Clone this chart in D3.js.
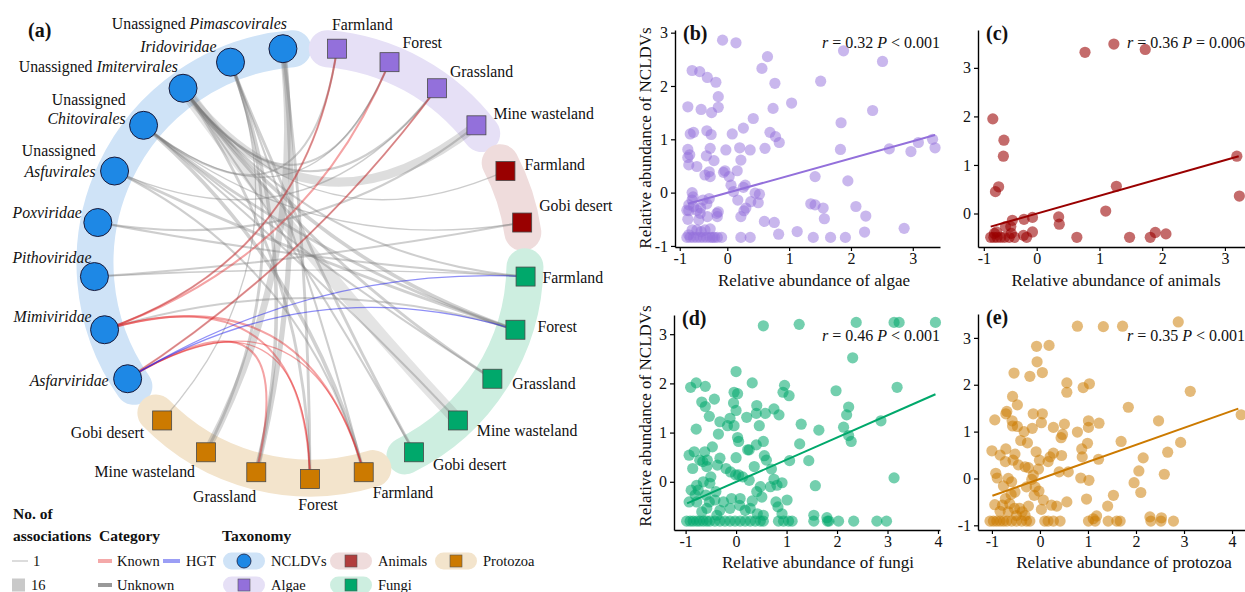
<!DOCTYPE html>
<html><head><meta charset="utf-8">
<script src="https://cdn.jsdelivr.net/npm/d3@7"></script>
<style>
body{margin:0;background:#fff}
svg{display:block}
text{font-family:"Liberation Serif","Times New Roman",Times,serif;fill:#111}
</style>
</head><body>
<svg id="chart" width="1245" height="592" style="font-family:'Liberation Serif','Times New Roman',Times,serif"></svg>
<script>
// ================= DATA =================
// Panel (a) nodes, clockwise from top
const nodeIds = ["A_Farm","A_For","A_Gra","A_Mine","An_Farm","An_Gobi",
  "F_Farm","F_For","F_Gra","F_Mine","F_Gobi",
  "P_Farm","P_For","P_Gra","P_Mine","P_Gobi",
  "Asfar","Mimi","Pith","Pox","Asfu","Chi","Imi","Iri","Pim"];
const nodeGroups = ["Algae","Algae","Algae","Algae","Animals","Animals",
  "Fungi","Fungi","Fungi","Fungi","Fungi",
  "Protozoa","Protozoa","Protozoa","Protozoa","Protozoa",
  "NCLDVs","NCLDVs","NCLDVs","NCLDVs","NCLDVs","NCLDVs","NCLDVs","NCLDVs","NCLDVs"];
// label lines: each line = list of [text, italic]
const nodeLabels = [
  [[["Farmland",0]]],[[["Forest",0]]],[[["Grassland",0]]],[[["Mine wasteland",0]]],
  [[["Farmland",0]]],[[["Gobi desert",0]]],
  [[["Farmland",0]]],[[["Forest",0]]],[[["Grassland",0]]],[[["Mine wasteland",0]]],[[["Gobi desert",0]]],
  [[["Farmland",0]]],[[["Forest",0]]],[[["Grassland",0]]],[[["Mine wasteland",0]]],[[["Gobi desert",0]]],
  [[["Asfarviridae",1]]],[[["Mimiviridae",1]]],[[["Pithoviridae",1]]],[[["Poxviridae",1]]],
  [[["Unassigned",0]],[["Asfuvirales",1]]],
  [[["Unassigned",0]],[["Chitovirales",1]]],
  [[["Unassigned ",0],["Imitervirales",1]]],
  [[["Iridoviridae",1]]],
  [[["Unassigned ",0],["Pimascovirales",1]]]
];
// edges: [NCLDV node, partner node, number of associations, category]
const edges = [
  ["Imi","F_Mine",16,"Unknown"],["Imi","A_Mine",11,"Unknown"],["Imi","F_For",4,"Unknown"],
  ["Imi","F_Gra",3,"Unknown"],["Imi","F_Farm",2,"Unknown"],["Imi","P_For",3,"Unknown"],
  ["Imi","F_Gobi",2,"Unknown"],["Imi","An_Farm",1,"Unknown"],["Imi","A_For",2,"Unknown"],
  ["Imi","A_Gra",2,"Unknown"],
  ["Chi","F_For",3,"Unknown"],["Chi","F_Gra",2,"Unknown"],["Chi","P_Farm",4,"Unknown"],
  ["Chi","A_Farm",2,"Unknown"],["Chi","A_For",1,"Unknown"],["Chi","An_Gobi",1,"Unknown"],
  ["Chi","F_Mine",2,"Unknown"],
  ["Asfu","F_For",3,"Unknown"],["Asfu","P_Farm",2,"Unknown"],["Asfu","A_Gra",1,"Unknown"],
  ["Pox","F_Farm",2,"Unknown"],["Pox","A_Mine",2,"Unknown"],
  ["Pith","An_Gobi",2,"Unknown"],["Pith","F_Farm",1,"Unknown"],
  ["Pim","P_For",3,"Unknown"],["Pim","P_Mine",8,"Unknown"],["Pim","P_Gra",6,"Unknown"],
  ["Iri","F_Gobi",3,"Unknown"],["Iri","P_Farm",2,"Unknown"],["Iri","P_Gra",4,"Unknown"],
  ["Iri","P_Mine",3,"Unknown"],["Iri","P_Gobi",1,"Unknown"],
  ["Mimi","A_Farm",1,"Unknown"],["Mimi","F_For",2,"Unknown"],["Asfar","A_Gra",1,"Unknown"],
  ["Mimi","A_Farm",2,"Known"],["Mimi","A_For",2,"Known"],["Asfar","A_Gra",2,"Known"],
  ["Mimi","P_For",2,"Known"],["Mimi","P_Farm",2,"Known"],["Asfar","P_Gra",2,"Known"],
  ["Asfar","P_For",1,"Known"],["Asfar","P_Farm",1,"Known"],
  ["Asfar","F_Farm",1,"HGT"],["Asfar","F_For",1,"HGT"]
];
const taxa = ["NCLDVs","Algae","Animals","Fungi","Protozoa"];
const categories = ["Known","HGT","Unknown"];
const sizeBreaks = [1,16];

// Scatter panels: [x, y] pairs
const algaePts = [[-0.10,2.86],[0.14,2.81],[1.88,2.66],[0.65,2.55],[2.51,2.46],[0.56,2.33],[1.51,2.09],[0.77,2.05],[-0.74,2.29],[-0.58,2.27],[-0.42,2.16],[-0.24,2.07],[-0.19,1.80],[-0.83,1.61],[-0.55,1.56],[-0.19,1.60],[-0.33,1.50],[0.42,1.39],[1.04,1.68],[0.74,1.58],[2.35,1.54],[1.84,1.31],[0.26,1.21],[0.69,1.13],[0.78,1.05],[0.84,0.94],[0.61,0.83],[0.08,1.10],[-0.78,1.10],[-0.71,1.13],[-0.43,1.16],[-0.34,1.09],[-0.83,0.81],[-0.79,0.71],[-0.83,0.66],[-0.81,0.52],[-0.64,0.49],[-0.36,0.83],[-0.44,0.69],[-0.28,0.60],[-0.03,0.80],[-0.47,0.33],[-0.38,0.39],[-0.36,0.30],[-0.08,0.38],[-0.05,0.41],[0.03,0.30],[0.16,0.41],[0.22,0.61],[0.37,0.80],[0.20,0.84],[1.83,0.81],[2.62,0.82],[2.97,0.77],[3.09,0.94],[3.32,1.00],[3.36,0.84],[0.06,0.14],[0.10,0.02],[0.26,0.10],[0.17,-0.14],[0.29,0.14],[0.45,-0.01],[0.52,-0.03],[0.38,-0.17],[0.27,-0.34],[0.30,-0.29],[0.22,-0.45],[0.50,-0.19],[0.60,-0.54],[0.76,-0.56],[1.42,0.30],[1.95,0.22],[1.35,-0.21],[1.42,-0.23],[1.55,-0.29],[1.57,-0.49],[2.08,-0.26],[2.24,-0.44],[2.86,-0.67],[0.83,-0.78],[1.13,-0.73],[1.39,-0.84],[1.67,-0.84],[1.91,-0.84],[2.22,-0.74],[-0.12,-0.84],[0.22,-0.84],[0.37,-0.84],[-0.27,-0.84],[-0.74,0.00],[-0.72,-0.08],[-0.74,-0.14],[-0.81,-0.23],[-0.85,-0.33],[-0.71,-0.26],[-0.57,-0.39],[-0.56,-0.29],[-0.51,-0.14],[-0.38,-0.11],[-0.43,-0.21],[-0.60,-0.51],[-0.64,-0.70],[-0.74,-0.70],[-0.81,-0.79],[-0.85,-0.84],[-0.78,-0.84],[-0.71,-0.84],[-0.64,-0.84],[-0.57,-0.84],[-0.50,-0.84],[-0.43,-0.84],[-0.36,-0.84],[-0.21,-0.84],[-0.55,-0.73],[-0.47,-0.70],[-0.36,-0.68],[-0.22,-0.39],[-0.19,-0.36],[-0.21,-0.45],[-0.83,-0.50],[-0.81,-0.34],[-0.64,-0.33],[-0.42,-0.45],[-0.31,-0.84]];
const animalPts = [[0.77,3.32],[1.23,3.49],[1.73,3.38],[-0.83,1.95],[-0.62,1.51],[-0.63,1.18],[-0.72,0.55],[-0.78,0.45],[1.27,0.56],[1.10,0.05],[3.19,1.18],[3.23,0.36],[0.35,-0.07],[0.36,-0.22],[-0.08,-0.08],[-0.24,-0.12],[-0.08,-0.38],[-0.46,-0.14],[-0.49,-0.27],[-0.59,-0.27],[-0.76,-0.38],[0.64,-0.49],[1.48,-0.49],[1.81,-0.49],[1.89,-0.39],[2.06,-0.42],[-0.25,-0.45],[-0.87,-0.49],[-0.81,-0.49],[-0.75,-0.49],[-0.68,-0.49],[-0.61,-0.49],[-0.52,-0.49],[-0.42,-0.49],[-0.19,-0.49],[-0.48,-0.41],[-0.80,-0.41]];
const fungiPts = [[0.54,3.17],[1.25,3.20],[2.38,3.24],[3.13,3.24],[3.23,3.24],[3.95,3.24],[2.31,2.52],[3.19,1.92],[1.98,1.85],[2.23,1.52],[2.19,1.36],[2.87,1.24],[2.13,1.11],[2.23,0.94],[2.28,0.82],[3.13,0.08],[1.64,1.05],[1.29,1.17],[1.26,0.77],[1.44,0.43],[1.57,-0.08],
 [0,2.24],[0.32,2.01],[0.96,1.96],[0.93,1.82],[1.05,1.75],[-0.04,1.82],[0.03,1.79],[-0.9,1.92],[-0.79,2.01],[-0.61,1.94],[-0.68,1.62],[-0.61,1.53],[-0.43,1.68],[-0.05,1.60],[0,1.45],[0.41,1.55],[0.40,1.39],[0.58,1.39],[0.75,1.48],[0.85,1.36],[0.46,1.14],[0.21,1.31],[-0.12,1.29],[-0.17,1.14],[-0.04,1.14],[-0.32,1.22],[-0.53,1.33],[-0.79,1.07],[-0.35,0.97],[0.03,0.90],[0.05,0.82],[0.54,0.82],[0.40,0.75],[0.26,0.65],[0.23,0.65],[-0.47,0.71],[-0.62,0.61],[-0.93,0.54],[-0.83,0.61],[0,0.49],[0.56,0.53],[0.60,0.44],[0.36,0.31],[0.70,0.26],[1.06,0.43],
 [-0.72,0.44],[-0.66,0.41],[-0.57,0.44],[-0.86,0.27],[-0.58,0.31],[-0.37,0.34],[-0.32,0.48],[-0.2,0.27],[-0.11,0.2],[0.05,0.14],[-0.01,0.14],[0.13,0.10],[0.26,0.03],[0.75,0.05],[0.91,-0.02],[0.81,-0.07],[0.68,-0.1],[0.48,-0.1],[0.41,-0.2],[0.51,-0.31],[0.32,-0.39],[0.08,-0.34],[0.07,-0.48],[-0.09,-0.34],[-0.12,-0.54],[-0.25,-0.41],[-0.32,-0.58],[-0.40,-0.2],[-0.42,-0.37],[-0.50,0.1],[-0.52,-0.03],[-0.65,0],[-0.78,-0.07],[-0.75,-0.17],[-0.81,-0.27],[-0.78,-0.41],[-0.93,-0.41],[-0.89,-0.17],[-0.60,-0.27],[-0.53,-0.41],[-0.58,-0.54],[-0.68,-0.61],[-0.38,-0.68],[0.18,-0.58],[0.28,-0.54],[0.42,-0.65],[0.54,-0.68],[0.79,-0.41],[0.83,-0.51],[1.01,-0.37],[0.91,-0.65],[1.54,-0.68],[1.80,-0.73],
 [-0.98,-0.8],[-0.91,-0.8],[-0.85,-0.8],[-0.78,-0.8],[-0.72,-0.8],[-0.65,-0.8],[-0.58,-0.8],[-0.52,-0.8],[-0.42,-0.8],[-0.32,-0.8],[-0.22,-0.8],[-0.12,-0.8],[-0.02,-0.8],[0.08,-0.8],[0.18,-0.8],[0.28,-0.8],[0.38,-0.8],[0.48,-0.8],[0.54,-0.8],[0.84,-0.8],[0.94,-0.8],[1.04,-0.8],[1.11,-0.8],[1.54,-0.8],[1.81,-0.8],[1.84,-0.8],[2.03,-0.8],[2.33,-0.8],[2.79,-0.8],[2.98,-0.8]];
const protozoaPts = [[0.78,3.25],[1.32,3.24],[1.72,3.25],[2.88,3.34],[-0.07,2.82],[0.19,2.84],[-0.06,2.49],[0.05,2.26],[-0.54,2.25],[-0.21,2.18],[0.56,2.04],[0.56,1.84],[1.03,2.02],[0.90,1.94],[3.13,1.86],[1.84,1.52],[-0.57,1.75],[-0.47,1.57],[-0.69,1.43],[-0.71,1.38],[-0.94,1.25],[-0.14,1.38],[0.05,1.38],[0.03,1.19],[-0.58,1.23],[-0.57,1.12],[-0.47,1.11],[-0.16,1.07],[-0.33,1.0],[0.51,1.16],[0.28,1.09],[1.23,1.18],[1.01,1.23],[1.01,1.09],[0.78,0.99],[0.99,0.75],[0.47,0.94],[0.44,0.87],[-0.40,0.81],[-0.26,0.76],[2.47,1.23],[2.93,0.77],[2.66,0.56],[1.69,0.79],[2.15,0.44],[2.06,0.16],[2.59,0.09],[1.96,-0.09],[2.10,-0.30],[1.53,-0.36],[1.41,-0.59],[0.97,-0.44],[-1.0,0.59],[-0.71,0.63],[-0.52,0.52],[-0.56,0.39],[-0.83,0.5],[-0.72,0.36],[-0.45,0.29],[-0.31,0.25],[-0.24,0.23],[-0.08,0.57],[-0.01,0.39],[0.21,0.46],[0.28,0.54],[0.45,0.49],[0.88,0.46],[1.22,0.41],[0.87,0.63],[0.59,0.14],[0.40,0.14],[0.17,0.36],[-0.03,0.2],[-0.14,0.07],[-0.17,-0.02],[-0.28,-0.18],[-0.10,-0.18],[-0.02,-0.27],[-0.12,-0.36],[0.07,-0.46],[0.24,-0.57],[0.35,-0.59],[0.03,-0.66],[0.56,-0.5],[0.85,0.01],[1.02,-0.04],[-0.92,0.11],[-0.89,0.01],[-0.66,0],[-0.59,-0.07],[-0.76,-0.16],[-0.52,-0.29],[-0.60,-0.34],[-0.72,-0.43],[-0.94,-0.56],[-0.78,-0.57],[-0.83,-0.70],[-0.53,-0.64],[-0.37,-0.71],[-0.31,-0.79],[-0.42,-0.64],[-0.24,-0.59],[-0.49,-0.79],[-0.66,-0.71],[-0.63,-0.54],
 [-1.04,-0.91],[-0.97,-0.91],[-0.9,-0.91],[-0.83,-0.91],[-0.76,-0.91],[-0.69,-0.91],[-0.59,-0.91],[-0.49,-0.91],[-0.38,-0.91],[-0.28,-0.91],[-0.21,-0.91],[0.10,-0.91],[0.17,-0.91],[0.28,-0.91],[0.42,-0.91],[1.01,-0.91],[1.15,-0.91],[1.42,-0.91],[1.60,-0.91],[1.67,-0.91],[2.31,-0.91],[2.52,-0.91],[2.78,-0.91],[1.18,-0.8],[1.11,-0.86],[2.29,-0.82],[2.53,-0.84],[4.19,1.36]];
// fitted regression lines: [xStart, xEnd], [yStart, yEnd]
const fitAlgae = [[-0.83,3.36],[-0.21,1.08]];
const fitAnimals = [[-0.87,3.22],[-0.27,1.18]];
const fitFungi = [[-0.97,3.95],[-0.44,1.78]];
const fitProtozoa = [[-0.99,4.13],[-0.37,1.49]];
const statTexts = [["0.32","<","0.001"],["0.36","=","0.006"],["0.46","<","0.001"],["0.35","<","0.001"]];
const xTicksBC = [-1,0,1,2,3];
const xTicksDE = [-1,0,1,2,3,4];
const yTicksB = [-1,0,1,2,3];
const yTicksCD = [0,1,2,3];
const yTicksE = [-1,0,1,2,3];

// ================= STYLE =================
const groupFill = {NCLDVs:"#1e88e5",Algae:"#9370db",Animals:"#990000",Fungi:"#00a86b",Protozoa:"#cc7a00"};
const groupBand = {NCLDVs:"#cfe3f7",Algae:"#e6e0f6",Animals:"#efdcdc",Fungi:"#cdeee0",Protozoa:"#f3e4cc"};
const catColor = {Known:"#e41a1c",HGT:"#1f1ff0",Unknown:"#7a7a7a"};
const catLegend = {Known:"#f4a9a9",HGT:"#9b9ef5",Unknown:"#999999"};
const FONT = "'Liberation Serif','Times New Roman',Times,serif";

const svg = d3.select("#chart");

// ================= PANEL (a) =================
const cx=310, cy=263, R=216, Rb=215;
const angle = d3.scaleBand().domain(nodeIds).range([0, 2*Math.PI]).padding(0);
const ang = id => angle(id) + angle.bandwidth()/2;
const pos = (id, r=R) => [cx + r*Math.sin(ang(id)), cy - r*Math.cos(ang(id))];

const gA = svg.append("g");
// bands
const pad = 2.6*Math.PI/180;
taxa.forEach(t => {
  const ids = nodeIds.filter((d,i)=>nodeGroups[i]===t);
  const a0 = ang(ids[0]) - pad, a1 = ang(ids[ids.length-1]) + pad;
  const p0 = [cx+Rb*Math.sin(a0), cy-Rb*Math.cos(a0)], p1=[cx+Rb*Math.sin(a1), cy-Rb*Math.cos(a1)];
  gA.append("path")
    .attr("d", `M${p0[0]},${p0[1]} A${Rb},${Rb} 0 ${a1-a0>Math.PI?1:0} 1 ${p1[0]},${p1[1]}`)
    .attr("fill","none").attr("stroke",groupBand[t]).attr("stroke-width",37).attr("stroke-linecap","round");
});
// edges
const wScale = d3.scaleLinear().domain(sizeBreaks).range([1.3,13]);
const opScale = d3.scaleLinear().domain(sizeBreaks).range([0.38,0.2]);
const catOrder = {Unknown:0,Known:1,HGT:2};
const k = 0.95;
edges.slice().sort((a,b)=>catOrder[a[3]]-catOrder[b[3]]).forEach(e => {
  const s = pos(e[0]), t = pos(e[1]);
  const mx=(s[0]+t[0])/2, my=(s[1]+t[1])/2;
  const c = [mx + k*(cx-mx), my + k*(cy-my)];
  const p = d3.path(); p.moveTo(s[0],s[1]); p.quadraticCurveTo(c[0],c[1],t[0],t[1]);
  gA.append("path").attr("d",p.toString()).attr("fill","none")
    .attr("stroke",catColor[e[3]]).attr("stroke-width",wScale(e[2]))
    .attr("stroke-opacity", e[3]==="Unknown"?opScale(e[2]):(e[3]==="Known"?0.4:0.5));
});
// nodes
nodeIds.forEach((id,i) => {
  const [x,y] = pos(id); const g = nodeGroups[i];
  if (g==="NCLDVs") gA.append("circle").attr("cx",x).attr("cy",y).attr("r",14)
      .attr("fill",groupFill[g]).attr("stroke","#1a1a3a").attr("stroke-width",1);
  else gA.append("rect").attr("x",x-9.5).attr("y",y-9.5).attr("width",19).attr("height",19)
      .attr("fill",groupFill[g]).attr("stroke","#4a4a4a").attr("stroke-width",0.8);
});
// labels (layout offsets from node centre)
const labelOffsets = [[-5,-19,"start"],[13,-14,"start"],[13,-11,"start"],[17,-6,"start"],[19,-1,"start"],[17,-12,"start"],
 [17,6,"start"],[22,2,"start"],[20,10,"start"],[19,16,"start"],[19,18,"start"],
 [9,26,"start"],[8,31,"middle"],[0,30,"end"],[-11,25,"end"],[-18,18,"end"],
 [-19,7,"end"],[-13,-8,"end"],[-3,-14,"end"],[-16,-5,"end"],[-19,-15,"end"],[-18,-20,"end"],[-5,-16,"end"],[-14,-10,"end"],[4,-20,"end"]];
nodeIds.forEach((id,i) => {
  const [x,y] = pos(id); const [dx,dy,anc] = labelOffsets[i];
  const lines = nodeLabels[i];
  const lh = i===20?21:19;
  lines.forEach((line,li) => {
    const t = gA.append("text").attr("x",x+dx).attr("y",y+dy+li*lh)
      .attr("text-anchor",anc).style("font-size","15.8px").style("font-family",FONT);
    line.forEach(seg => t.append("tspan").text(seg[0]).style("font-style",seg[1]?"italic":"normal"));
  });
});
gA.append("text").attr("x",28).attr("y",37).text("(a)").style("font-size","20px").style("font-weight","bold").style("font-family",FONT);

// legend
const lg = svg.append("g");
const bold = (x,y,s) => lg.append("text").attr("x",x).attr("y",y).text(s).style("font-size","15.5px").style("font-weight","bold").style("font-family",FONT);
const norm = (x,y,s) => lg.append("text").attr("x",x).attr("y",y).text(s).style("font-size","14.5px").style("font-family",FONT);
bold(13,519,"No. of"); bold(13,541,"associations");
lg.append("line").attr("x1",12).attr("x2",28).attr("y1",561).attr("y2",561).attr("stroke","#c9c9c9").attr("stroke-width",wScale(sizeBreaks[0]));
norm(33,566,String(sizeBreaks[0]));
lg.append("line").attr("x1",12).attr("x2",25).attr("y1",585).attr("y2",585).attr("stroke","#c9c9c9").attr("stroke-width",wScale(sizeBreaks[1]));
norm(31,590,String(sizeBreaks[1]));
bold(99,541,"Category");
const catPos = {Known:[98,561],HGT:[163,561],Unknown:[98,585]};
categories.forEach(c => {
  const [x,y] = catPos[c];
  lg.append("line").attr("x1",x).attr("x2",x+(c==="HGT"?17:14)).attr("y1",y).attr("y2",y).attr("stroke",catLegend[c]).attr("stroke-width",4);
  norm(x+(c==="HGT"?23:19),y+5,c);
});
bold(222,541,"Taxonomy");
const taxPos = {NCLDVs:[223,561],Animals:[330,561],Protozoa:[435,561],Algae:[223,585],Fungi:[330,585]};
taxa.forEach(t => {
  const [x,y] = taxPos[t];
  lg.append("rect").attr("x",x).attr("y",y-8.5).attr("width",42).attr("height",17).attr("rx",8.5).attr("fill",groupBand[t]);
  if (t==="NCLDVs") lg.append("circle").attr("cx",x+21).attr("cy",y).attr("r",7).attr("fill",groupFill[t]).attr("stroke","#1a1a3a").attr("stroke-width",0.8);
  else lg.append("rect").attr("x",x+15).attr("y",y-6).attr("width",12).attr("height",12).attr("fill",groupFill[t]).attr("fill-opacity",t==="Animals"?0.72:1).attr("stroke","#555").attr("stroke-width",0.6);
  norm(x+48,y+5,t);
});

// ================= SCATTER PANELS =================
function panel(cfg){
  const g = svg.append("g");
  const x = d3.scaleLinear().domain(cfg.xd).range(cfg.xr);
  const y = d3.scaleLinear().domain(cfg.yd).range(cfg.yr);
  g.selectAll("circle").data(cfg.pts).join("circle")
    .attr("cx",d=>x(d[0])).attr("cy",d=>y(d[1])).attr("r",5.6)
    .attr("fill",cfg.color).attr("fill-opacity",cfg.op);
  g.append("line").attr("x1",x(cfg.fit[0][0])).attr("x2",x(cfg.fit[0][1]))
    .attr("y1",y(cfg.fit[1][0])).attr("y2",y(cfg.fit[1][1]))
    .attr("stroke",cfg.color).attr("stroke-width",2);
  const fmt = d => String(d);
  const xa = g.append("g").attr("transform",`translate(0,${cfg.yr[0]})`)
    .call(d3.axisBottom(x).tickValues(cfg.xt).tickFormat(fmt).tickSize(4).tickSizeOuter(0).tickPadding(2));
  const ya = g.append("g").attr("transform",`translate(${cfg.xr[0]},0)`)
    .call(d3.axisLeft(y).tickValues(cfg.yt).tickFormat(fmt).tickSize(4).tickSizeOuter(0).tickPadding(3));
  [xa,ya].forEach(a => {
    a.attr("font-family",FONT);
    a.select(".domain").attr("stroke","#000").attr("stroke-width",1.4);
    a.selectAll(".tick line").attr("stroke","#000").attr("stroke-width",1.2);
    a.selectAll(".tick text").style("font-size","16px").style("font-family",FONT).attr("fill","#222");
  });
  g.append("text").attr("x",cfg.xr[0]+8).attr("y",cfg.yr[1]+10).text(cfg.tag)
    .style("font-size","20px").style("font-weight","bold").style("font-family",FONT);
  const st = g.append("text").attr("x",cfg.xr[cfg.xr.length-1]).attr("y",cfg.statY).attr("text-anchor","end")
    .style("font-size","16px").style("font-family",FONT);
  st.append("tspan").text("r").style("font-style","italic");
  st.append("tspan").text(" = " + cfg.stat[0] + " ");
  st.append("tspan").text("P").style("font-style","italic");
  st.append("tspan").text(" " + cfg.stat[1] + " " + cfg.stat[2]);
  g.append("text").attr("x",cfg.xtitle[0]).attr("y",cfg.xtitle[1]).attr("text-anchor","middle")
    .style("font-size","17px").style("font-family",FONT).text(cfg.xlab);
  if (cfg.ylab) g.append("text").attr("transform",`translate(${cfg.ytitle[0]},${cfg.ytitle[1]}) rotate(-90)`)
    .attr("text-anchor","middle").style("font-size","17px").style("font-family",FONT).text(cfg.ylab);
}
panel({pts:algaePts, fit:fitAlgae, color:"#9370db", op:0.5, tag:"(b)", stat:statTexts[0], statY:48,
  xd:[-1.1,0,3.44], xr:[675,727.3,940], yd:[-1.02,3.05], yr:[247,30], xt:xTicksBC, yt:yTicksB,
  xlab:"Relative abundance of algae", xtitle:[814,286], ylab:"Relative abundance of NCLDVs", ytitle:[651,138]});
panel({pts:animalPts, fit:fitAnimals, color:"#990000", op:0.58, tag:"(c)", stat:statTexts[1], statY:48,
  xd:[-1.11,0,3.32], xr:[978,1036.7,1245], yd:[-0.69,3.78], yr:[247,30], xt:xTicksBC, yt:yTicksCD,
  xlab:"Relative abundance of animals", xtitle:[1116,286]});
panel({pts:fungiPts, fit:fitFungi, color:"#00a86b", op:0.55, tag:"(d)", stat:statTexts[2], statY:341,
  xd:[-1.23,4.04], xr:[674,940], yd:[-0.98,3.39], yr:[530,315], xt:xTicksDE, yt:yTicksCD,
  xlab:"Relative abundance of fungi", xtitle:[818,568], ylab:"Relative abundance of NCLDVs", ytitle:[651,416]});
panel({pts:protozoaPts, fit:fitProtozoa, color:"#cc7a00", op:0.52, tag:"(e)", stat:statTexts[3], statY:341,
  xd:[-1.29,4.27], xr:[978,1245], yd:[-1.1,3.51], yr:[530,314], xt:xTicksDE, yt:yTicksE,
  xlab:"Relative abundance of protozoa", xtitle:[1124,568]});
</script>
</body></html>
